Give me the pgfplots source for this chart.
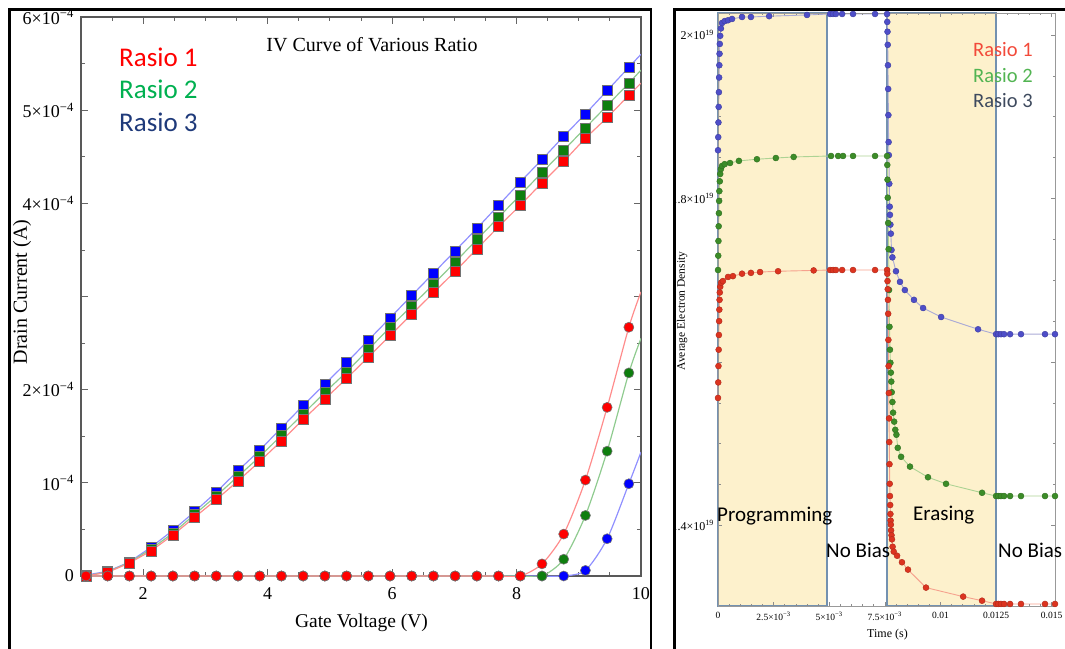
\documentclass[border=0pt]{standalone}
\usepackage{pgfplots}
\pgfplotsset{compat=1.18}
\usepackage{fontspec}
\setmainfont{Liberation Serif}
\newfontfamily\carlito{Carlito}

\definecolor{mred}{HTML}{FF0000}
\definecolor{lred}{HTML}{FF8C8C}
\definecolor{mgreen}{HTML}{0E7E0E}
\definecolor{lgreen}{HTML}{8FCB8F}
\definecolor{mblue}{HTML}{0000FF}
\definecolor{lblue}{HTML}{9090FF}
\definecolor{legR}{HTML}{FF0000}
\definecolor{legG}{HTML}{00B050}
\definecolor{legB}{HTML}{1F3A7A}
\definecolor{cream}{HTML}{FDF1CC}
\definecolor{boxblue}{HTML}{7391B0}
\definecolor{dR}{HTML}{DC3420}
\definecolor{dRl}{HTML}{F6A28E}
\definecolor{dG}{HTML}{3C8C28}
\definecolor{dGl}{HTML}{ADD394}
\definecolor{dB}{HTML}{4E4EC8}
\definecolor{dBl}{HTML}{AAAAD6}
\definecolor{rlegR}{HTML}{F24A3A}
\definecolor{rlegG}{HTML}{52B452}
\definecolor{rlegB}{HTML}{3E4A5E}

\begin{document}
\begin{tikzpicture}[x=1pt,y=1pt]
\useasboundingbox (0,0) rectangle (1065,648);

% ---------------- left panel ----------------
\begin{axis}[
  at={(81pt,72pt)}, anchor=south west,
  scale only axis, width=560pt, height=559pt,
  xmin=1, xmax=10, ymin=0, ymax=6,
  scaled x ticks=false, scaled y ticks=false,
  axis line style={draw=black!65, line width=1.3pt},
  xtick={2,4,6,8,10}, xticklabels={2,4,6,8,10},
  minor xtick={1,1.5,...,10},
  ytick={0,1,2,3,4,5,6},
  yticklabels={0,10\textsuperscript{−4},2×10\textsuperscript{−4},,4×10\textsuperscript{−4},5×10\textsuperscript{−4},6×10\textsuperscript{−4}},
  minor ytick={0.5,1.5,2.5,3.5,4.5,5.5},
  tick align=inside,
  major tick length=7pt, minor tick length=4pt,
  every tick/.style={black!60, line width=0.8pt},
  tick label style={font=\fontsize{18}{18}\selectfont, inner sep=0pt},
  xticklabel style={yshift=-11pt},
  yticklabel style={xshift=-7pt},
]
% squares (27th point = line end at the frame)
\addplot[color=lblue, line width=1.2pt, mark=square*, mark size=5pt, mark indices={1,...,26},
  mark options={fill=mblue, draw=black!55, line width=0.6pt}] coordinates {
(1.080,0.01)(1.429,0.05)(1.778,0.15)(2.127,0.31)(2.476,0.49)(2.825,0.69)(3.174,0.90)(3.523,1.13)
(3.872,1.35)(4.221,1.59)(4.570,1.83)(4.919,2.06)(5.268,2.29)(5.617,2.53)(5.966,2.77)(6.315,3.01)
(6.664,3.25)(7.013,3.49)(7.362,3.73)(7.711,3.98)(8.060,4.23)(8.409,4.47)(8.758,4.72)(9.107,4.96)
(9.456,5.21)(9.805,5.46)(10,5.60)};
\addplot[color=lgreen, line width=1.2pt, mark=square*, mark size=5pt, mark indices={1,...,26},
  mark options={fill=mgreen, draw=black!55, line width=0.6pt}] coordinates {
(1.080,0.00)(1.429,0.045)(1.778,0.145)(2.127,0.29)(2.476,0.46)(2.825,0.66)(3.174,0.86)(3.523,1.07)
(3.872,1.28)(4.221,1.51)(4.570,1.74)(4.919,1.97)(5.268,2.19)(5.617,2.43)(5.966,2.67)(6.315,2.90)
(6.664,3.13)(7.013,3.37)(7.362,3.61)(7.711,3.85)(8.060,4.09)(8.409,4.33)(8.758,4.57)(9.107,4.81)
(9.456,5.05)(9.805,5.29)(10,5.43)};
\addplot[color=lred, line width=1.2pt, mark=square*, mark size=5pt, mark indices={1,...,26},
  mark options={fill=mred, draw=black!55, line width=0.6pt}] coordinates {
(1.080,0.00)(1.429,0.04)(1.778,0.14)(2.127,0.27)(2.476,0.44)(2.825,0.63)(3.174,0.82)(3.523,1.02)
(3.872,1.23)(4.221,1.45)(4.570,1.68)(4.919,1.90)(5.268,2.12)(5.617,2.35)(5.966,2.58)(6.315,2.81)
(6.664,3.04)(7.013,3.27)(7.362,3.51)(7.711,3.75)(8.060,3.98)(8.409,4.22)(8.758,4.45)(9.107,4.70)
(9.456,4.92)(9.805,5.16)(10,5.29)};
% circles
\addplot[color=lblue, line width=1.2pt, smooth, tension=0.45, mark=*, mark size=5pt, mark indices={1,...,26},
  mark options={fill=mblue, draw=black!55, line width=0.6pt}] coordinates {
(1.080,0)(1.429,0)(1.778,0)(2.127,0)(2.476,0)(2.825,0)(3.174,0)(3.523,0)
(3.872,0)(4.221,0)(4.570,0)(4.919,0)(5.268,0)(5.617,0)(5.966,0)(6.315,0)
(6.664,0)(7.013,0)(7.362,0)(7.711,0)(8.060,0)(8.409,0)(8.758,0)(9.107,0.06)
(9.456,0.40)(9.805,0.99)(10,1.33)};
\addplot[color=lgreen, line width=1.2pt, smooth, tension=0.45, mark=*, mark size=5pt, mark indices={1,...,26},
  mark options={fill=mgreen, draw=black!55, line width=0.6pt}] coordinates {
(1.080,0)(1.429,0)(1.778,0)(2.127,0)(2.476,0)(2.825,0)(3.174,0)(3.523,0)
(3.872,0)(4.221,0)(4.570,0)(4.919,0)(5.268,0)(5.617,0)(5.966,0)(6.315,0)
(6.664,0)(7.013,0)(7.362,0)(7.711,0)(8.060,0)(8.409,0)(8.758,0.18)(9.107,0.65)
(9.456,1.34)(9.805,2.18)(10,2.55)};
\addplot[color=lred, line width=1.2pt, smooth, tension=0.45, mark=*, mark size=5pt, mark indices={1,...,26},
  mark options={fill=mred, draw=black!55, line width=0.6pt}] coordinates {
(1.080,0)(1.429,0)(1.778,0)(2.127,0)(2.476,0)(2.825,0)(3.174,0)(3.523,0)
(3.872,0)(4.221,0)(4.570,0)(4.919,0)(5.268,0)(5.617,0)(5.966,0)(6.315,0)
(6.664,0)(7.013,0)(7.362,0)(7.711,0)(8.060,0)(8.409,0.13)(8.758,0.45)(9.107,1.03)
(9.456,1.81)(9.805,2.67)(10,3.05)};
\end{axis}

\node[anchor=base, inner sep=0pt, font=\fontsize{20}{20}\selectfont] at (372,596) {IV Curve of Various Ratio};
\node[anchor=base, inner sep=0pt, font=\fontsize{19.5}{20}\selectfont] at (361.5,21) {Gate Voltage (V)};
\node[rotate=90, anchor=center, inner sep=0pt, font=\fontsize{20}{20}\selectfont] at (22,356) {Drain Current (A)};
\node[anchor=base west, inner sep=0pt, font=\carlito\fontsize{27}{27}\selectfont, text=legR] at (119,581) {Rasio 1};
\node[anchor=base west, inner sep=0pt, font=\carlito\fontsize{27}{27}\selectfont, text=legG] at (119,549) {Rasio 2};
\node[anchor=base west, inner sep=0pt, font=\carlito\fontsize{27}{27}\selectfont, text=legB] at (119,516) {Rasio 3};

% ---------------- right panel ----------------
\begin{scope}
\clip (674.5,-10) rectangle (1100,700);
\begin{axis}[
  at={(718pt,42pt)}, anchor=south west,
  scale only axis, width=337pt, height=593pt,
  xmin=0, xmax=0.01515, ymin=1.3015, ymax=2.0269,
  clip=false, axis on top,
  scaled x ticks=false, scaled y ticks=false,
  axis line style={draw=black!40, line width=0.8pt},
  xtick={0,0.0025,0.005,0.0075,0.01,0.0125,0.015},
  xticklabels={0,2.5×10\textsuperscript{−3},5×10\textsuperscript{−3},7.5×10\textsuperscript{−3},0.01,0.0125,0.015},
  minor x tick num=4,
  ytick={1.4,1.6,1.8,2.0},
  yticklabels={1.4×10\textsuperscript{19},,1.8×10\textsuperscript{19},2×10\textsuperscript{19}},
  minor y tick num=3,
  tick align=inside,
  major tick length=4pt, minor tick length=2.5pt,
  every tick/.style={black!45, line width=0.5pt},
  xticklabel style={font=\fontsize{9.5}{10}\selectfont, inner sep=0pt, yshift=-6pt},
  yticklabel style={font=\fontsize{12}{12}\selectfont, inner sep=0pt, xshift=-4pt},
]
\draw[fill=cream, draw=boxblue, line width=1.6pt] (axis cs:0,1.3015) rectangle (axis cs:0.0049,2.0269);
\draw[fill=cream, draw=boxblue, line width=1.6pt] (axis cs:0.0076,1.3015) rectangle (axis cs:0.0125,2.0269);

\addplot[color=dBl, line width=0.9pt, mark=*, mark size=3pt, mark options={fill=dB, draw=dB!80!black, line width=0.4pt}] coordinates {
(0,1.859)(0.00001,1.875)(0.00002,1.893)(0.00003,1.912)(0.00004,1.930)(0.00005,1.948)(0.00006,1.963)
(0.00007,1.977)(0.00008,1.989)(0.0001,1.999)(0.00013,2.008)(0.00018,2.0147)(0.0003,2.017)(0.00045,2.018)
(0.00063,2.0196)(0.00108,2.022)(0.00148,2.022)(0.0023,2.023)(0.004,2.0245)(0.00504,2.0257)(0.00517,2.0257)
(0.0053,2.0257)(0.00558,2.0257)(0.00607,2.0257)(0.00706,2.0257)(0.0076,2.0257)
(0.00761,2.016)(0.00762,2.004)(0.00763,1.988)(0.00764,1.963)(0.00765,1.934)(0.00766,1.902)(0.00767,1.869)
(0.00768,1.853)(0.0077,1.818)(0.00772,1.790)(0.00773,1.780)(0.00775,1.768)(0.00777,1.757)(0.0078,1.737)
(0.00784,1.728)(0.0080,1.711)(0.00818,1.698)(0.0084,1.688)(0.00881,1.676)(0.00922,1.666)(0.01003,1.655)
(0.01169,1.640)(0.0125,1.634)(0.0126,1.634)(0.01272,1.634)(0.01286,1.634)(0.01313,1.634)(0.01362,1.634)
(0.0147,1.634)(0.01515,1.634)};

\addplot[color=dGl, line width=0.9pt, mark=*, mark size=3pt, mark options={fill=dG, draw=dG!80!black, line width=0.4pt}] coordinates {
(0,1.7125)(0.00001,1.730)(0.00002,1.748)(0.00003,1.766)(0.00004,1.782)(0.00005,1.797)(0.00006,1.809)
(0.00008,1.821)(0.0001,1.830)(0.00013,1.836)(0.00018,1.8398)(0.0003,1.842)(0.00054,1.8434)(0.00094,1.846)
(0.00175,1.848)(0.0026,1.8495)(0.0034,1.8508)(0.00508,1.852)(0.0054,1.852)(0.00562,1.852)(0.00607,1.852)
(0.00706,1.852)(0.0076,1.852)
(0.00761,1.841)(0.00762,1.823)(0.00763,1.801)(0.00765,1.770)(0.00767,1.738)(0.00769,1.688)(0.00771,1.643)
(0.00773,1.615)(0.00775,1.599)(0.00777,1.587)(0.00779,1.576)(0.00781,1.563)(0.00784,1.551)(0.00787,1.538)
(0.00792,1.527)(0.00797,1.517)(0.00802,1.511)(0.00808,1.495)(0.00823,1.484)(0.00863,1.472)(0.00944,1.459)
(0.01025,1.451)(0.01187,1.440)(0.0125,1.436)(0.0126,1.436)(0.01272,1.436)(0.01286,1.436)(0.01313,1.436)
(0.01362,1.436)(0.0147,1.436)(0.01515,1.436)};

\addplot[color=dRl, line width=0.9pt, mark=*, mark size=3pt, mark options={fill=dR, draw=dR!80!black, line width=0.4pt}] coordinates {
(0,1.556)(0.00001,1.575)(0.00002,1.595)(0.00003,1.615)(0.00004,1.633)(0.00005,1.650)(0.00006,1.664)
(0.00007,1.676)(0.00008,1.685)(0.0001,1.692)(0.00014,1.697)(0.00022,1.699)(0.00045,1.704)(0.00067,1.705)
(0.00108,1.708)(0.00148,1.709)(0.00189,1.710)(0.0027,1.711)(0.0043,1.712)(0.00504,1.7125)(0.00517,1.7125)
(0.0053,1.7125)(0.00558,1.7125)(0.00607,1.7125)(0.00706,1.7125)(0.0076,1.7125)
(0.00761,1.708)(0.00762,1.699)(0.00763,1.689)(0.00764,1.676)(0.00765,1.659)(0.00766,1.627)(0.00767,1.595)
(0.00768,1.562)(0.00769,1.531)(0.0077,1.502)(0.00771,1.475)(0.00772,1.451)(0.00773,1.436)(0.00774,1.425)
(0.00775,1.414)(0.00776,1.406)(0.00777,1.401)(0.00778,1.394)(0.0078,1.388)(0.00782,1.383)(0.00785,1.374)
(0.0079,1.368)(0.00805,1.363)(0.00827,1.355)(0.00854,1.346)(0.00935,1.324)(0.01102,1.313)(0.01187,1.308)
(0.0125,1.304)(0.0126,1.304)(0.01272,1.304)(0.01286,1.304)(0.01313,1.304)(0.01362,1.304)(0.0147,1.304)
(0.01515,1.304)};
\end{axis}
\node[rotate=90, anchor=center, inner sep=0pt, font=\fontsize{11.5}{12}\selectfont] at (682,337) {Average Electron Density};
\node[anchor=base, inner sep=0pt, font=\fontsize{12}{12}\selectfont] at (887.5,11) {Time (s)};
\end{scope}

\node[anchor=base west, inner sep=0pt, font=\carlito\fontsize{21}{21}\selectfont] at (717,126) {Programming};
\node[anchor=base west, inner sep=0pt, font=\carlito\fontsize{21}{21}\selectfont] at (826,91) {No Bias};
\node[anchor=base west, inner sep=0pt, font=\carlito\fontsize{21}{21}\selectfont] at (913,128) {Erasing};
\node[anchor=base west, inner sep=0pt, font=\carlito\fontsize{21}{21}\selectfont] at (998,91) {No Bias};
\node[anchor=base west, inner sep=0pt, font=\carlito\fontsize{20.5}{21}\selectfont, text=rlegR] at (973,591) {Rasio 1};
\node[anchor=base west, inner sep=0pt, font=\carlito\fontsize{20.5}{21}\selectfont, text=rlegG] at (973,565) {Rasio 2};
\node[anchor=base west, inner sep=0pt, font=\carlito\fontsize{20.5}{21}\selectfont, text=rlegB] at (973,540) {Rasio 3};

% frames
\draw[line width=2.4pt] (9.5,-20) -- (9.5,638.5) -- (650.7,638.5) -- (650.7,-20);
\draw[line width=2.4pt] (674.5,-20) -- (674.5,638.5) -- (1100,638.5);
\end{tikzpicture}
\end{document}
